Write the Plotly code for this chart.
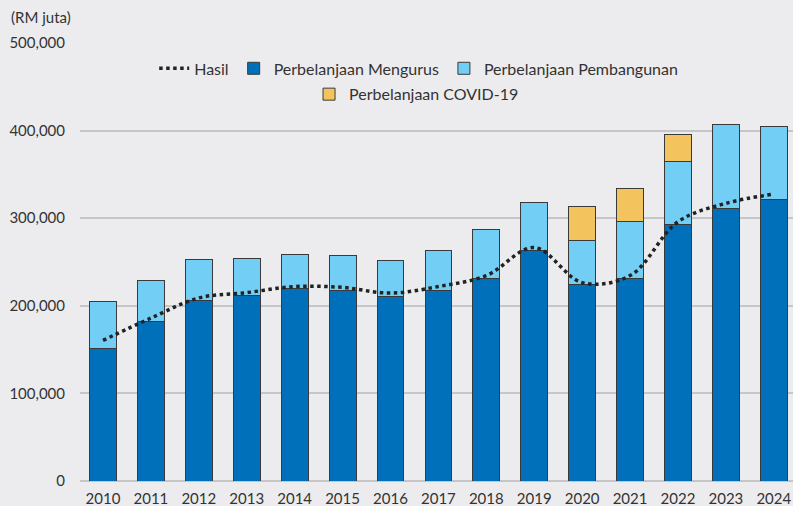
import plotly.graph_objects as go

years = [str(y) for y in range(2010, 2025)]
mengurus = [151600, 182600, 205500, 211300, 219600, 217000, 210200, 217700, 231000, 263300, 224600, 231500, 292700, 311000, 321500]
pembangunan = [52800, 46500, 47000, 42200, 39500, 40800, 42000, 44900, 56100, 54200, 50400, 64300, 71600, 95600, 83500]
covid = [None, None, None, None, None, None, None, None, None, None, 38000, 38000, 31000, None, None]
hasil = [160500, 186000, 209000, 215000, 222000, 221000, 214500, 222000, 234500, 266500, 226500, 234500, 296000, 317000, 327500]
y_ticks = [0, 100000, 200000, 300000, 400000, 500000]

BG = "#ECECEE"
EDGE = "#3a3a3a"
FONT = "Lato"
TXT = "#333333"

fig = go.Figure()
fig.add_trace(go.Bar(x=years, y=mengurus, name="Perbelanjaan Mengurus",
                     marker=dict(color="#0070BA", line=dict(color=EDGE, width=1)),
                     legend="legend", legendrank=2))
fig.add_trace(go.Bar(x=years, y=pembangunan, name="Perbelanjaan Pembangunan",
                     marker=dict(color="#72CEF5", line=dict(color=EDGE, width=1)),
                     legend="legend", legendrank=3))
fig.add_trace(go.Bar(x=years, y=covid, name="Perbelanjaan COVID-19",
                     marker=dict(color="#F3C45E", line=dict(color=EDGE, width=1)),
                     legend="legend2"))
fig.add_trace(go.Scatter(x=years, y=hasil, name="Hasil", mode="lines",
                         line=dict(color="#222222", width=3.5, dash="dot", shape="spline", smoothing=1.0),
                         legend="legend", legendrank=1))

fig.update_layout(
    width=793, height=506,
    margin=dict(l=80, r=0, t=43, b=25),
    paper_bgcolor=BG, plot_bgcolor=BG,
    barmode="stack", bargap=0.44,
    font=dict(family=FONT, size=14, color=TXT),
    showlegend=True,
    legend=dict(orientation="h", x=0.475, y=0.942, xanchor="center", yanchor="middle",
                bgcolor="rgba(0,0,0,0)", font=dict(size=16, color=TXT),
                itemwidth=30, traceorder="normal"),
    legend2=dict(orientation="h", x=0.472, y=0.883, xanchor="center", yanchor="middle",
                 bgcolor="rgba(0,0,0,0)", font=dict(size=16, color=TXT), itemwidth=30),
    xaxis=dict(type="category", range=[-0.48, 14.4], showgrid=False, showline=False,
               ticks="outside", ticklen=4, tickcolor="rgba(0,0,0,0)",
               tickfont=dict(size=15, color=TXT), automargin=False),
    yaxis=dict(range=[0, 500000], tickvals=y_ticks, tickformat=",d",
               showgrid=True, gridcolor="#C6C6C8", gridwidth=1.5,
               zeroline=True, zerolinecolor="#C6C6C8", zerolinewidth=1.5,
               ticks="outside", ticklen=11, tickcolor="rgba(0,0,0,0)",
               tickfont=dict(size=15, color=TXT), automargin=False),
    annotations=[dict(text="(RM juta)", xref="paper", yref="paper", x=-0.1, y=1.035,
                      xanchor="left", yanchor="bottom", showarrow=False,
                      font=dict(size=15, color=TXT))],
)

fig.write_html("out.html", config={"displayModeBar": False},
               post_script="document.body.style.margin='0';document.body.style.overflow='hidden';")
